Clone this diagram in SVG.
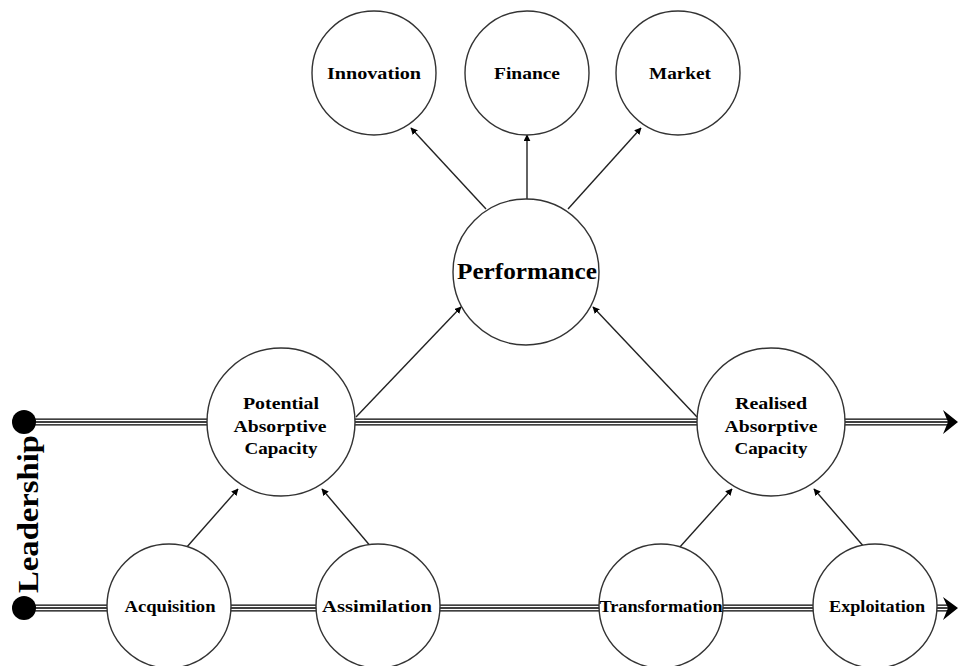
<svg xmlns="http://www.w3.org/2000/svg" width="959" height="666" viewBox="0 0 959 666">
<style>
.node circle{fill:#fff;stroke:#333;stroke-width:1.4}
.lbl{font-family:"Liberation Serif","DejaVu Serif",serif;font-weight:bold;font-size:16px;fill:#000;text-anchor:middle}
.thin{stroke:#222;stroke-width:1.4;fill:none;marker-end:url(#ah)}
.tb{stroke:#000;stroke-width:7;fill:none}
.tw{stroke:#fff;stroke-width:4.6;fill:none}
.tc{stroke:#000;stroke-width:1.4;fill:none}
</style>
<defs>
<marker id="ah" viewBox="0 0 10 10" refX="9" refY="5" markerWidth="7" markerHeight="7" markerUnits="userSpaceOnUse" orient="auto">
<path d="M0,0 L10,5 L0,10 Z" fill="#000"/>
</marker>
</defs>
<rect width="959" height="666" fill="#fff"/>
<g id="connectors">
<path class="tb" d="M24,422 H950 M24,608 H950"/>
<path class="tw" d="M30,422 H950 M30,608 H950"/>
<path class="tc" d="M30,422 H950 M30,608 H950"/>
<polygon points="958,422 943,410 948,422 943,434" fill="#000"/>
<polygon points="958,608 943,597 948,608 943,620" fill="#000"/>
<circle cx="24" cy="422" r="12" fill="#000"/>
<circle cx="24" cy="608" r="12" fill="#000"/>
<line class="thin" x1="186" y1="548" x2="238" y2="489"/>
<line class="thin" x1="372" y1="548" x2="322" y2="489"/>
<line class="thin" x1="679" y1="548" x2="732" y2="489"/>
<line class="thin" x1="865" y1="548" x2="814" y2="489"/>
<line class="thin" x1="356" y1="417" x2="461" y2="307"/>
<line class="thin" x1="697" y1="417" x2="593" y2="307"/>
<line class="thin" x1="486" y1="209" x2="411" y2="128"/>
<line class="thin" x1="527" y1="199" x2="527" y2="135"/>
<line class="thin" x1="568" y1="209" x2="641" y2="128"/>
</g>
<g id="innovation" class="node"><circle cx="374" cy="73" r="62"/><text class="lbl" x="374" y="79" textLength="94" lengthAdjust="spacingAndGlyphs">Innovation</text></g>
<g id="finance" class="node"><circle cx="527" cy="73" r="62"/><text class="lbl" x="527" y="79" textLength="66" lengthAdjust="spacingAndGlyphs">Finance</text></g>
<g id="market" class="node"><circle cx="678" cy="73" r="62"/><text class="lbl" x="680" y="79" textLength="62" lengthAdjust="spacingAndGlyphs">Market</text></g>
<g id="performance" class="node"><circle cx="526" cy="272" r="73"/><text class="lbl" x="527" y="279" style="font-size:24px" textLength="140" lengthAdjust="spacingAndGlyphs">Performance</text></g>
<g id="potential" class="node"><circle cx="281" cy="422" r="74"/>
<text class="lbl" x="281" y="409" textLength="76" lengthAdjust="spacingAndGlyphs">Potential</text>
<text class="lbl" x="280" y="432" textLength="93" lengthAdjust="spacingAndGlyphs">Absorptive</text>
<text class="lbl" x="281" y="454" textLength="73" lengthAdjust="spacingAndGlyphs">Capacity</text></g>
<g id="realised" class="node"><circle cx="771" cy="422" r="74"/>
<text class="lbl" x="771" y="409" textLength="72" lengthAdjust="spacingAndGlyphs">Realised</text>
<text class="lbl" x="771" y="432" textLength="93" lengthAdjust="spacingAndGlyphs">Absorptive</text>
<text class="lbl" x="771" y="454" textLength="73" lengthAdjust="spacingAndGlyphs">Capacity</text></g>
<g id="acquisition" class="node"><circle cx="169" cy="606" r="62"/><text class="lbl" x="170" y="612" textLength="91" lengthAdjust="spacingAndGlyphs">Acquisition</text></g>
<g id="assimilation" class="node"><circle cx="378" cy="606" r="62"/><text class="lbl" x="377" y="612" textLength="110" lengthAdjust="spacingAndGlyphs">Assimilation</text></g>
<g id="transformation" class="node"><circle cx="661" cy="606" r="62"/><text class="lbl" x="661" y="612" textLength="123" lengthAdjust="spacingAndGlyphs">Transformation</text></g>
<g id="exploitation" class="node"><circle cx="875" cy="606" r="62"/><text class="lbl" x="877" y="612" textLength="96" lengthAdjust="spacingAndGlyphs">Exploitation</text></g>
<g id="leadership"><text class="lbl" transform="translate(38,514) rotate(-90)" x="0" y="0" style="font-size:30px" textLength="158" lengthAdjust="spacingAndGlyphs">Leadership</text></g>
</svg>
